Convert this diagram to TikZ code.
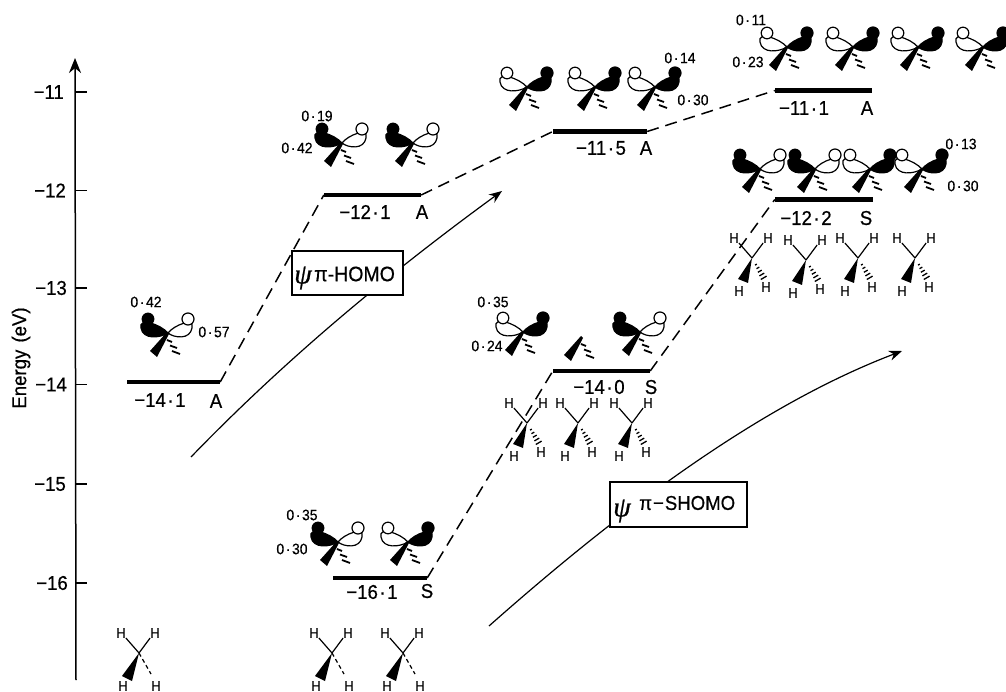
\documentclass[tikz,border=0pt]{standalone}
\usepackage{fontspec}
\setmainfont{Liberation Sans}[FakeStretch=0.93,RawFeature={embolden=0.5}]
\newfontfamily\psifont{Liberation Serif}[RawFeature={embolden=0.8}]
\usetikzlibrary{arrows.meta}
\newcommand{\dt}{\kern1.6pt·\kern1.6pt}
\tikzset{
  x=1pt,y=-1pt,
  bond/.style={line width=1.2pt},
  lobeline/.style={line width=1.2pt,draw=black},
  level/.style={rectangle,fill=black,inner sep=0pt,minimum height=4.6pt,draw=none},
  link/.style={line width=1.5pt,dash pattern=on 12pt off 7pt},
  curvearrow/.style={line width=1.2pt,-{Stealth[length=13pt,width=10pt]}},
  big/.style={font=\fontsize{20}{22}\selectfont,inner sep=0pt},
  small/.style={font=\fontsize{15}{17}\selectfont,inner sep=0pt},
  atom/.style={font=\fontsize{14}{16}\selectfont,inner sep=0pt},
  lbox/.style={draw=black,line width=1.3pt,fill=white,inner sep=0pt,align=center},
  pics/hashwedge/.style={code={
    \fill (-1,-1) -- (-18,18) -- (-11,24) -- (1,1) -- cycle;
    \draw[line width=1.8pt] (-1,7) -- (4,9) (2,12.5) -- (9,15) (4,18) -- (12,21);
  }},
  pics/orb/.style 2 args={code={
    \filldraw[lobeline,fill=#1] (0,0) .. controls (-8,-9) and (-30,-16) .. (-27,-5) .. controls (-25,7) and (-8,5) .. (0,0);
    \filldraw[lobeline,fill=#1] (-20,-14) circle (5.8);
    \filldraw[lobeline,fill=#2] (0,0) .. controls (6,-8) and (27,-16) .. (24,-5) .. controls (22,7) and (6,5) .. (0,0);
    \filldraw[lobeline,fill=#2] (20,-14) circle (6);
    \pic {hashwedge};
  }},
  pics/methbase/.style n args={4}{code={
    \node[atom] (-a) at (-18,-20) {H};
    \node[atom] (-b) at (16,-20) {H};
    \node[atom] (-c) at #1 {H};
    \node[atom] (-d) at #2 {H};
    \coordinate (-o) at (0,0);
    \draw[bond] (-o) -- (-a.south east);
    \draw[bond] (-o) -- (-b.south west);
    \fill (-o) -- #3 -- #4 -- cycle;
  }},
  pics/methdash/.style={code={
    \pic (-m) {methbase={(-16,33)}{(17,33)}{(-17,23)}{(-7,28)}};
    \draw[line width=1.2pt,dash pattern=on 4pt off 3pt] (0,0) -- (12,21);
  }},
  pics/methhash/.style={code={
    \pic (-m) {methbase={(-13,33)}{(14,29)}{(-14,21)}{(-4,25)}};
    \draw[line width=1.3pt] (3,7.1) -- (4.8,6.1) (4.5,10.7) -- (7.3,9.1) (5.9,14.3) -- (9.7,12.1) (7.4,17.9) -- (12.2,15.1) (8.8,21.5) -- (14.6,18.1);
  }},
}
\begin{document}
\begin{tikzpicture}
\useasboundingbox (0,0) rectangle (1006,692);
% axis
\coordinate (axb) at (76,680);
\coordinate (axt) at (75,58);
\draw[line width=1.5pt,-{Stealth[length=15pt,width=12pt]}] (axb) -- (axt);
\foreach \yy/\lab/\xx in {92/11/64,190.5/12/66,288/13/67,384.5/14/67,484/15/66,583/16/68}{
  \coordinate (t\lab) at (76,\yy);
  \draw[line width=1.3pt] (t\lab) -- ++(11,0);
  \node[big,anchor=east] (tl\lab) at (\xx,\yy) {−\lab};
}
\node[rotate=90,font=\fontsize{20}{22}\selectfont,inner sep=0pt] (ylab) at (21,358) {Energy\hspace{2pt} (eV)};

% curved arrows (behind the boxes)
\coordinate (c1s) at (191,457);
\coordinate (c1e) at (502,191);
\coordinate (c2s) at (489,626);
\coordinate (c2e) at (902,351);
\draw[curvearrow] (c1s) .. controls (280,365) and (380,280) .. (c1e);
\draw[curvearrow] (c2s) .. controls (620,510) and (760,405) .. (c2e);

% levels
\node[level,minimum width=93pt] (L141) at (173.5,382) {};
\node[level,minimum width=97pt] (L121) at (372.5,195) {};
\node[level,minimum width=94pt] (L161) at (380,578) {};
\node[level,minimum width=94pt] (L115) at (600,131.5) {};
\node[level,minimum width=97pt] (L111) at (823.5,90.5) {};
\node[level,minimum width=98pt] (L122) at (824,199.5) {};
\node[level,minimum width=97pt] (L140) at (601.5,371) {};

% dashed links
\draw[link] (L141.east) -- (L121.west);
\draw[link] (L121.east) -- (L115.west);
\draw[link] (L115.east) -- (L111.west);
\draw[link] (L161.east) -- (L140.west);
\draw[link] (L140.east) -- (L122.west);

% boxes
\node[lbox,minimum width=111pt,minimum height=44pt] (b1) at (347.5,273) {};
\node[font=\psifont\itshape\fontsize{28}{30}\selectfont,inner sep=0pt] (b1p) at (303,278) {ψ};
\node[font=\fontsize{21}{23}\selectfont,inner sep=0pt,anchor=west] (b1t) at (314,274) {π-HOMO};
\node[lbox,minimum width=137pt,minimum height=45pt] (b2) at (678.5,504.5) {};
\node[font=\psifont\itshape\fontsize{28}{30}\selectfont,inner sep=0pt] (b2p) at (622,511) {ψ};
\node[font=\fontsize{20}{22}\selectfont,inner sep=0pt,anchor=west] (b2t) at (639,503) {π\kern1pt−\kern1pt SHOMO};

% orbitals
\pic at (168,333) {orb={black}{white}};
\pic at (342,143) {orb={black}{white}};
\pic at (413,143) {orb={black}{white}};
\pic at (338,542) {orb={black}{white}};
\pic at (408,542) {orb={white}{black}};
\pic at (527,87) {orb={white}{black}};
\pic at (595,87) {orb={white}{black}};
\pic at (655,87) {orb={white}{black}};
\pic at (787,47) {orb={white}{black}};
\pic at (853,47) {orb={white}{black}};
\pic at (918,47) {orb={white}{black}};
\pic at (983,47) {orb={white}{black}};
\pic at (760,169) {orb={black}{white}};
\pic at (815,169) {orb={black}{white}};
\pic at (870,169) {orb={white}{black}};
\pic at (922,169) {orb={white}{black}};
\pic at (523,332) {orb={white}{black}};
\pic at (582,337) {hashwedge};
\pic at (640,332) {orb={black}{white}};

% methyls
\pic (m1) at (139,653) {methdash};
\pic (m2) at (332,653) {methdash};
\pic (m3) at (403,653) {methdash};
\pic (m4) at (527,423) {methhash};
\pic (m5) at (578,423) {methhash};
\pic (m6) at (632,423) {methhash};
\pic (m7) at (752,258) {methhash};
\pic (m8) at (806,260) {methhash};
\pic (m9) at (858,258) {methhash};
\pic (m10) at (915,258) {methhash};

% coefficient labels
\node[small] (s1) at (146,302) {0\dt 42};
\node[small] (s2) at (214,332) {0\dt 57};
\node[small] (s3) at (317,116) {0\dt 19};
\node[small] (s4) at (297,148) {0\dt 42};
\node[small] (s5) at (302,515) {0\dt 35};
\node[small] (s6) at (292,549) {0\dt 30};
\node[small] (s7) at (680,58) {0\dt 14};
\node[small] (s8) at (693,100) {0\dt 30};
\node[small] (s9) at (751,20) {0\dt 11};
\node[small] (s10) at (748,62) {0\dt 23};
\node[small] (s11) at (961,144) {0\dt 13};
\node[small] (s12) at (963,186) {0\dt 30};
\node[small] (s13) at (493,302) {0\dt 35};
\node[small] (s14) at (487,346) {0\dt 24};

% level labels
\node[big] (v1) at (160,400) {−14\dt 1};
\node[big] (y1) at (216,401) {A};
\node[big] (v2) at (365,212) {−12\dt 1};
\node[big] (y2) at (422,212) {A};
\node[big] (v3) at (372,592) {−16\dt 1};
\node[big] (y3) at (427,591) {S};
\node[big] (v4) at (601,148) {−11\dt 5};
\node[big] (y4) at (646,148) {A};
\node[big] (v5) at (804,108) {−11\dt 1};
\node[big] (y5) at (867,108) {A};
\node[big] (v6) at (806,218) {−12\dt 2};
\node[big] (y6) at (866,218) {S};
\node[big] (v7) at (599,387) {−14\dt 0};
\node[big] (y7) at (651,387) {S};
\end{tikzpicture}
\end{document}
